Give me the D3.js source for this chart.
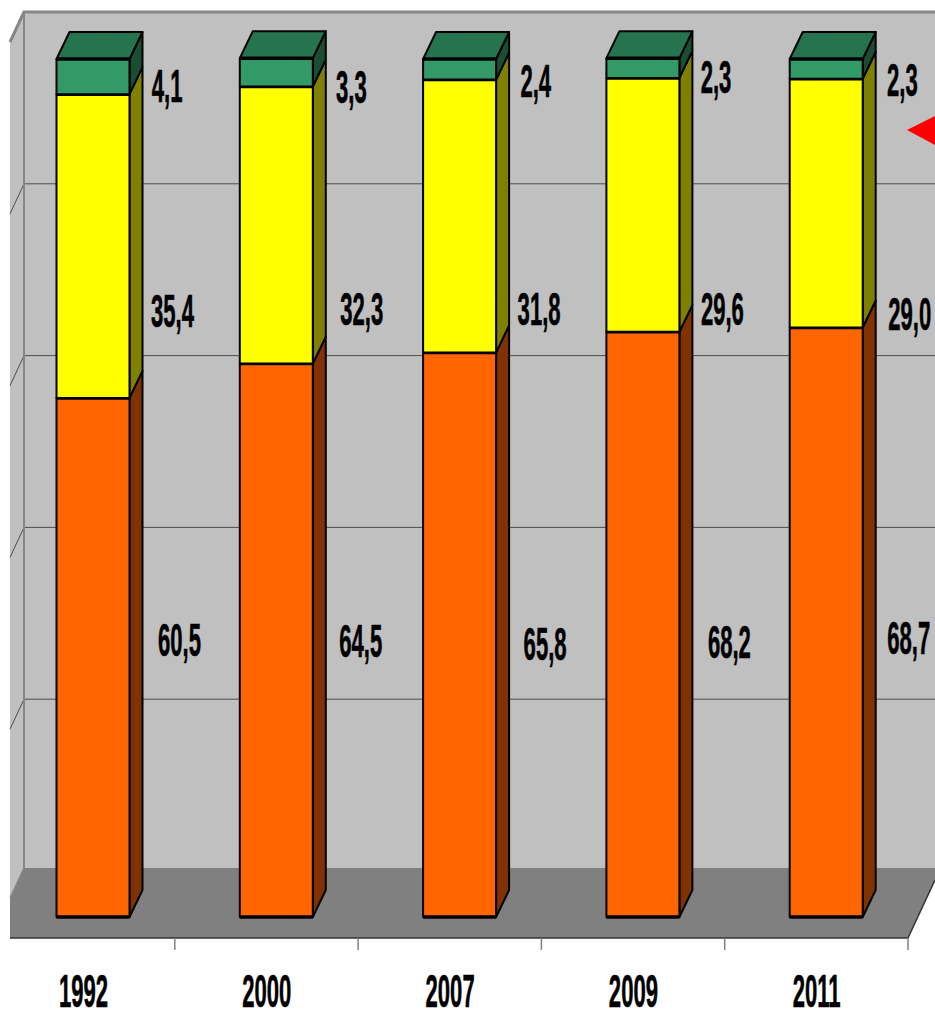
<!DOCTYPE html>
<html>
<head>
<meta charset="utf-8">
<script src="https://cdn.jsdelivr.net/npm/d3@7/dist/d3.min.js"></script>
<style>
  html, body { margin: 0; padding: 0; background: #fff; overflow: hidden; }
  svg { display: block; }
  text { font-family: "Liberation Sans", Arial, sans-serif; font-weight: bold; fill: #000; stroke: #000; stroke-width: 0.6px; }
</style>
</head>
<body>
<div id="chart"></div>
<script>
var years = ['1992', '2000', '2007', '2009', '2011'];
var orangeValues = [60.5, 64.5, 65.8, 68.2, 68.7];
var yellowValues = [35.4, 32.3, 31.8, 29.6, 29.0];
var greenValues = [4.1, 3.3, 2.4, 2.3, 2.3];
var gridTicks = [20, 40, 60, 80];

var width = 935, height = 1010;
var depthX = 13, depthY = 27;
var barWidth = 73;

var series = [
  { values: orangeValues, front: '#ff6600', side: '#803300', top: '#803300' },
  { values: yellowValues, front: '#ffff00', side: '#808000', top: '#808000' },
  { values: greenValues, front: '#339966', side: '#1a4d33', top: '#267350' }
];

// hand placement of the value labels, one row per series, px right of the bar
var labelDx = [
  [28, 26, 27, 28, 24],
  [21, 27, 21, 21, 25],
  [21, 22, 23, 20, 23]
];
var labelY = [
  [640, 641, 644, 642, 638],
  [311, 309, 309, 309, 314],
  [86, 87, 81, 77, 80]
];

var svg = d3.select('#chart').append('svg')
  .attr('width', width)
  .attr('height', height);

var x = d3.scaleBand().domain(years).range([-8.5, 908]);
var y = d3.scaleLinear().domain([0, 100]).range([917, 59]);
var wallY = d3.scaleLinear().domain([0, 100]).range([871, 12]);

function barLeft(i) { return x(years[i]) + 65; }

function pts(list) {
  return list.map(function(p){ return p.join(','); }).join(' ');
}

// floor and walls
svg.append('polygon')
  .attr('points', pts([[10, 938], [10, 898], [24, 868], [935, 868], [935, 880], [908, 938]]))
  .attr('fill', '#808080');

svg.append('polygon')
  .attr('points', pts([[10, 42], [24, 12], [24, 868], [10, 898]]))
  .attr('fill', '#c0c0c0');

svg.append('rect')
  .attr('x', 24)
  .attr('y', 12)
  .attr('width', 911)
  .attr('height', 856)
  .attr('fill', '#c0c0c0');

// gridlines run along the back wall and bend down the left wall
svg.selectAll('.grid')
  .data(gridTicks)
  .enter()
  .append('polyline')
  .classed('grid', true)
  .attr('points', function(d){
    return pts([[10, wallY(d) + 30], [24, wallY(d)], [935, wallY(d)]]);
  })
  .attr('fill', 'none')
  .attr('stroke', '#4d4d4d')
  .attr('stroke-width', 1);

svg.append('polyline')
  .attr('points', pts([[10, 42], [24, 12], [935, 12]]))
  .attr('fill', 'none')
  .attr('stroke', '#868686')
  .attr('stroke-width', 3);

svg.append('line')
  .attr('x1', 24).attr('y1', 12)
  .attr('x2', 24).attr('y2', 868)
  .attr('stroke', '#868686')
  .attr('stroke-width', 2);

svg.append('line')
  .attr('x1', 10).attr('y1', 898)
  .attr('x2', 24).attr('y2', 868)
  .attr('stroke', '#868686')
  .attr('stroke-width', 1.5);

// axis line and ticks
svg.append('line')
  .attr('x1', 10).attr('y1', 938)
  .attr('x2', 908).attr('y2', 938)
  .attr('stroke', '#333')
  .attr('stroke-width', 1.5);

svg.append('line')
  .attr('x1', 908).attr('y1', 938)
  .attr('x2', 935).attr('y2', 880)
  .attr('stroke', '#333')
  .attr('stroke-width', 1.5);

svg.selectAll('.tick')
  .data(years)
  .enter()
  .append('line')
  .classed('tick', true)
  .attr('x1', function(d){ return x(d) + x.step(); })
  .attr('x2', function(d){ return x(d) + x.step(); })
  .attr('y1', 938)
  .attr('y2', 950)
  .attr('stroke', '#808080')
  .attr('stroke-width', 1.5);

// stacked 3d bars
var stacked = d3.stack()
  .keys(d3.range(series.length))
  .value(function(d, k){ return series[k].values[d]; })(d3.range(years.length));

stacked.forEach(function(layer, s){
  var style = series[s];
  layer.forEach(function(seg, i){
    var left = barLeft(i), right = left + barWidth;
    var y0 = y(seg[0]), y1 = y(seg[1]);
    var g = svg.append('g')
      .attr('stroke', '#000')
      .attr('stroke-width', 2)
      .attr('stroke-linejoin', 'round');

    g.append('polygon')
      .attr('points', pts([[right, y0], [right + depthX, y0 - depthY], [right + depthX, y1 - depthY], [right, y1]]))
      .attr('fill', style.side);

    if (s === series.length - 1) {
      g.append('polygon')
        .attr('points', pts([[left, y1], [left + depthX, y1 - depthY], [right + depthX, y1 - depthY], [right, y1]]))
        .attr('fill', style.top);
    }

    g.append('rect')
      .attr('x', left)
      .attr('y', y1)
      .attr('width', barWidth)
      .attr('height', y0 - y1)
      .attr('fill', style.front);

    // heavier line on top of each block and under the bar
    g.append('line')
      .attr('x1', left).attr('x2', right)
      .attr('y1', y1).attr('y2', y1)
      .attr('stroke-width', 3.5);
    if (s === 0) {
      g.append('line')
        .attr('x1', left).attr('x2', right)
        .attr('y1', y0).attr('y2', y0)
        .attr('stroke-width', 3.5);
    }
  });
});

// narrow tall type, the original is a squeezed Arial Bold
function squeezed(cx, cy, str, size, sx) {
  svg.append('text')
    .attr('transform', 'translate(' + cx + ',' + cy + ') scale(' + sx + ',1)')
    .attr('text-anchor', 'middle')
    .attr('font-size', size)
    .text(str);
}

function fmt(v) { return v.toFixed(1).replace('.', ','); }

series.forEach(function(s, k){
  s.values.forEach(function(v, i){
    var str = fmt(v);
    var w = 10.75 * str.length;
    squeezed(barLeft(i) + barWidth + labelDx[k][i] + w / 2 + 0.5, labelY[k][i] + 16, str, 46, 0.48);
  });
});

years.forEach(function(yr){
  squeezed(x(yr) + 92, 1007, yr, 46, 0.48);
});

// red marker cut off by the right edge
svg.append('polygon')
  .attr('points', pts([[907, 130], [935, 116], [935, 145]]))
  .attr('fill', '#ff0000');
</script>
</body>
</html>
